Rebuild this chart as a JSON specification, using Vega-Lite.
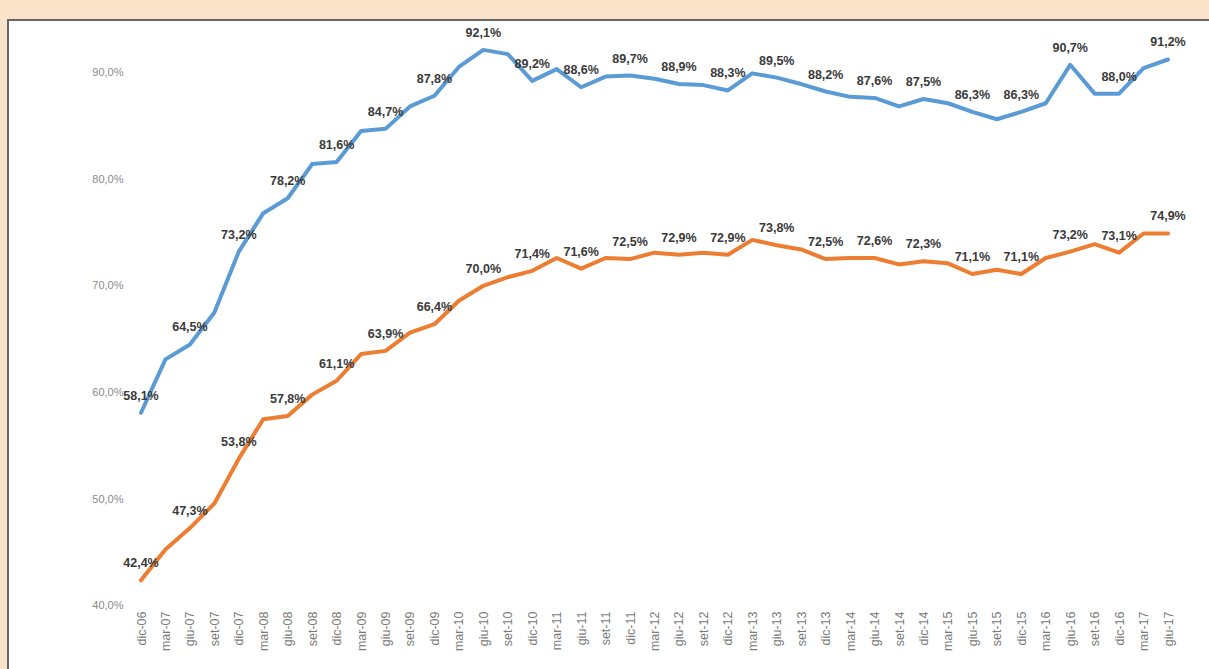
{
  "$schema": "https://vega.github.io/schema/vega-lite/v6.json",
  "autosize": "none",
  "width": 1202,
  "height": 650,
  "padding": {"left": 8, "top": 20, "right": 0, "bottom": 0},
  "background": "#fbe3c9",
  "config": {
    "view": {"fill": "white", "stroke": "#666666", "strokeWidth": 2},
    "font": "Liberation Sans"
  },
  "data": {
    "values": [
      {"q": "dic-06", "serie1": 58.1, "serie2": 42.4},
      {"q": "mar-07", "serie1": 63.1, "serie2": 45.3},
      {"q": "giu-07", "serie1": 64.5, "serie2": 47.3},
      {"q": "set-07", "serie1": 67.5, "serie2": 49.6},
      {"q": "dic-07", "serie1": 73.2, "serie2": 53.8},
      {"q": "mar-08", "serie1": 76.8, "serie2": 57.5},
      {"q": "giu-08", "serie1": 78.2, "serie2": 57.8},
      {"q": "set-08", "serie1": 81.4, "serie2": 59.8},
      {"q": "dic-08", "serie1": 81.6, "serie2": 61.1},
      {"q": "mar-09", "serie1": 84.5, "serie2": 63.6},
      {"q": "giu-09", "serie1": 84.7, "serie2": 63.9},
      {"q": "set-09", "serie1": 86.8, "serie2": 65.6},
      {"q": "dic-09", "serie1": 87.8, "serie2": 66.4},
      {"q": "mar-10", "serie1": 90.5, "serie2": 68.6},
      {"q": "giu-10", "serie1": 92.1, "serie2": 70.0},
      {"q": "set-10", "serie1": 91.7, "serie2": 70.8},
      {"q": "dic-10", "serie1": 89.2, "serie2": 71.4},
      {"q": "mar-11", "serie1": 90.3, "serie2": 72.6},
      {"q": "giu-11", "serie1": 88.6, "serie2": 71.6},
      {"q": "set-11", "serie1": 89.6, "serie2": 72.6},
      {"q": "dic-11", "serie1": 89.7, "serie2": 72.5},
      {"q": "mar-12", "serie1": 89.4, "serie2": 73.1},
      {"q": "giu-12", "serie1": 88.9, "serie2": 72.9},
      {"q": "set-12", "serie1": 88.8, "serie2": 73.1},
      {"q": "dic-12", "serie1": 88.3, "serie2": 72.9},
      {"q": "mar-13", "serie1": 89.9, "serie2": 74.3},
      {"q": "giu-13", "serie1": 89.5, "serie2": 73.8},
      {"q": "set-13", "serie1": 88.9, "serie2": 73.4},
      {"q": "dic-13", "serie1": 88.2, "serie2": 72.5},
      {"q": "mar-14", "serie1": 87.7, "serie2": 72.6},
      {"q": "giu-14", "serie1": 87.6, "serie2": 72.6},
      {"q": "set-14", "serie1": 86.8, "serie2": 72.0},
      {"q": "dic-14", "serie1": 87.5, "serie2": 72.3},
      {"q": "mar-15", "serie1": 87.1, "serie2": 72.1},
      {"q": "giu-15", "serie1": 86.3, "serie2": 71.1},
      {"q": "set-15", "serie1": 85.6, "serie2": 71.5},
      {"q": "dic-15", "serie1": 86.3, "serie2": 71.1},
      {"q": "mar-16", "serie1": 87.1, "serie2": 72.6},
      {"q": "giu-16", "serie1": 90.7, "serie2": 73.2},
      {"q": "set-16", "serie1": 88.0, "serie2": 73.9},
      {"q": "dic-16", "serie1": 88.0, "serie2": 73.1},
      {"q": "mar-17", "serie1": 90.4, "serie2": 74.9},
      {"q": "giu-17", "serie1": 91.2, "serie2": 74.9}
    ]
  },
  "transform": [
    {"fold": ["serie1", "serie2"], "as": ["serie", "v"]}
  ],
  "encoding": {
    "x": {
      "field": "q",
      "type": "ordinal",
      "sort": null,
      "scale": {"type": "point", "padding": 0, "range": [133, 1160]},
      "axis": {
        "title": null,
        "labelAngle": -90,
        "labelPadding": 0,
        "offset": -59,
        "domain": false,
        "ticks": false,
        "labelColor": "#7a7a7a",
        "labelFontSize": 12.5,
        "labelFont": "Liberation Sans"
      }
    },
    "y": {
      "field": "v",
      "type": "quantitative",
      "scale": {"domain": [34.0, 94.9], "nice": false, "zero": false},
      "axis": {
        "title": null,
        "values": [40, 50, 60, 70, 80, 90],
        "labelExpr": "replace(format(datum.value, '.1f'), '.', ',') + '%'",
        "offset": -115,
        "labelPadding": 0,
        "domain": false,
        "ticks": false,
        "grid": false,
        "labelColor": "#8a8a8a",
        "labelFontSize": 11,
        "labelFont": "Liberation Sans"
      }
    }
  },
  "layer": [
    {
      "mark": {"type": "line", "strokeWidth": 4, "strokeJoin": "round", "strokeCap": "round"},
      "encoding": {
        "color": {
          "field": "serie",
          "type": "nominal",
          "scale": {"domain": ["serie1", "serie2"], "range": ["#5b9bd5", "#ed7d31"]},
          "legend": null
        }
      }
    },
    {
      "transform": [
        {"filter": "indexof(datum.q, 'dic') === 0 || indexof(datum.q, 'giu') === 0"},
        {"calculate": "replace(format(datum.v, '.1f'), '.', ',') + '%'", "as": "lbl"}
      ],
      "mark": {"type": "text", "baseline": "bottom", "dy": -10, "fontWeight": "bold", "fontSize": 12.5, "color": "#3a3a3a", "font": "Liberation Sans"},
      "encoding": {
        "text": {"field": "lbl", "type": "nominal"}
      }
    }
  ]
}
